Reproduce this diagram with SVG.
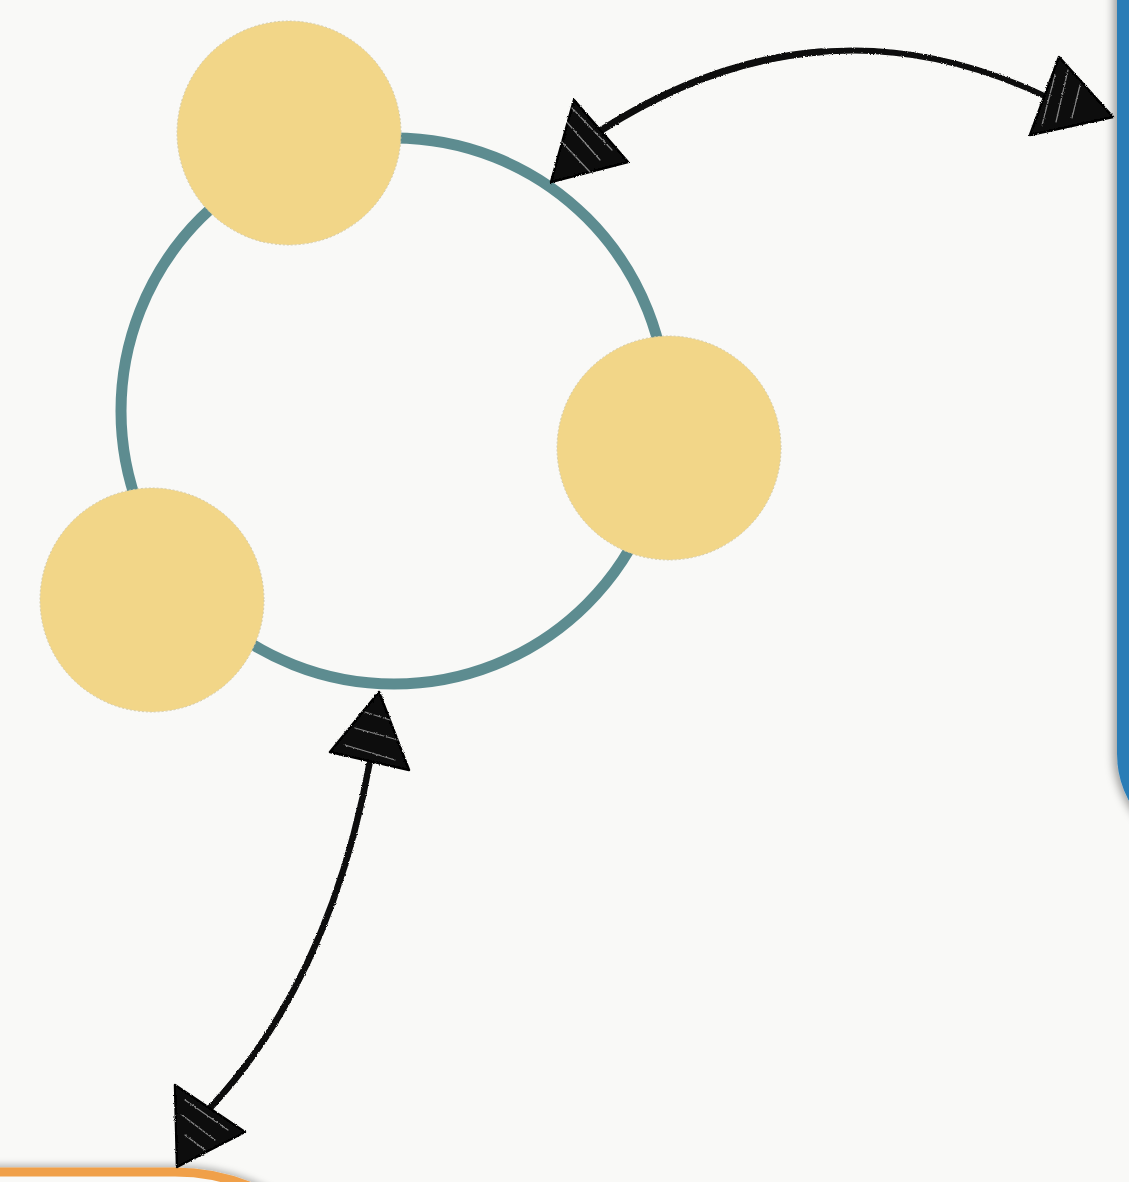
<svg xmlns="http://www.w3.org/2000/svg" width="1129" height="1182" viewBox="0 0 1129 1182">
  <defs>
    <style>
      .node { fill: #f2d688; stroke: #d4cba8; stroke-width: 1; stroke-dasharray: 2 2; }
      .ring { fill: none; stroke: #5d8c90; stroke-width: 11; }
      .shaft { fill: none; stroke: #0d0d0d; stroke-linecap: round; }
      .head { fill: #0d0d0d; stroke: #000; stroke-width: 2.5; stroke-linejoin: round; }
      .streak { fill: none; stroke: #ffffff; stroke-width: 1.2; stroke-opacity: 0.5; stroke-linecap: round; }
    </style>
    <filter id="rough" x="-10%" y="-10%" width="120%" height="120%">
      <feTurbulence type="fractalNoise" baseFrequency="0.9" numOctaves="2" seed="3" result="n"/>
      <feDisplacementMap in="SourceGraphic" in2="n" scale="2.5" xChannelSelector="R" yChannelSelector="G"/>
    </filter>
    <filter id="shadowL" x="-50%" y="-50%" width="200%" height="200%">
      <feDropShadow dx="-4" dy="0" stdDeviation="4" flood-color="#000" flood-opacity="0.35"/>
    </filter>
    <filter id="shadowU" x="-50%" y="-50%" width="200%" height="200%">
      <feDropShadow dx="0" dy="-3" stdDeviation="3" flood-color="#000" flood-opacity="0.25"/>
    </filter>
  </defs>

  <rect x="0" y="0" width="1129" height="1182" fill="#f9f9f7"/>

  <g id="panel-right" filter="url(#shadowL)">
    <rect x="1129" y="-200" width="400" height="1040" rx="86" ry="86" fill="#f9f9f7" stroke="#2b7db6" stroke-width="24"/>
  </g>

  <g id="panel-bottom" filter="url(#shadowU)">
    <rect x="-400" y="1172" width="775" height="600" rx="200" ry="200" fill="#f9f9f7" stroke="#f0a049" stroke-width="9"/>
  </g>

  <g id="ring">
    <circle class="ring" cx="394" cy="411" r="273"/>
  </g>

  <g id="node-1"><circle class="node" cx="289" cy="133" r="112"/></g>
  <g id="node-2"><circle class="node" cx="669" cy="448" r="112"/></g>
  <g id="node-3"><circle class="node" cx="152" cy="600" r="112"/></g>

  <g id="connectors" filter="url(#rough)">
    <g id="conn-top">
      <path class="shaft" stroke-width="7" d="M600,131 Q710,60.5 821.25,51.75"/>
      <path class="shaft" stroke-width="4.5" d="M600,131 Q820,-10 1045,96"/>
      <path class="shaft" stroke-width="1.5" d="M601,129 Q819,-12 1043,93"/>
      <path class="shaft" stroke-width="1.5" d="M599,133 Q821,-8 1046,99"/>
      <polygon class="head" points="551,182 574,100 628,162"/>
      <path class="streak" d="M565,120 L600,160 M560,140 L590,172 M572,108 L612,150"/>
      <polygon class="head" points="1113,117 1059,57 1030,135"/>
      <path class="streak" d="M1055,75 L1042,125 M1068,70 L1056,122 M1080,85 L1072,118"/>
    </g>
    <g id="conn-bottom">
      <path class="shaft" stroke-width="6.5" d="M370,761 Q330,980 210,1108"/>
      <path class="shaft" stroke-width="1.5" d="M371,760 Q332,981 212,1109"/>
      <path class="shaft" stroke-width="1.5" d="M369,762 Q328,979 208,1107"/>
      <polygon class="head" points="379,692 330,752 409,770"/>
      <path class="streak" d="M345,745 L395,760 M355,728 L398,740 M365,712 L390,720"/>
      <polygon class="head" points="177,1167 175,1085 245,1132"/>
      <path class="streak" d="M185,1100 L228,1130 M182,1115 L215,1140 M185,1135 L205,1150"/>
    </g>
  </g>
</svg>
